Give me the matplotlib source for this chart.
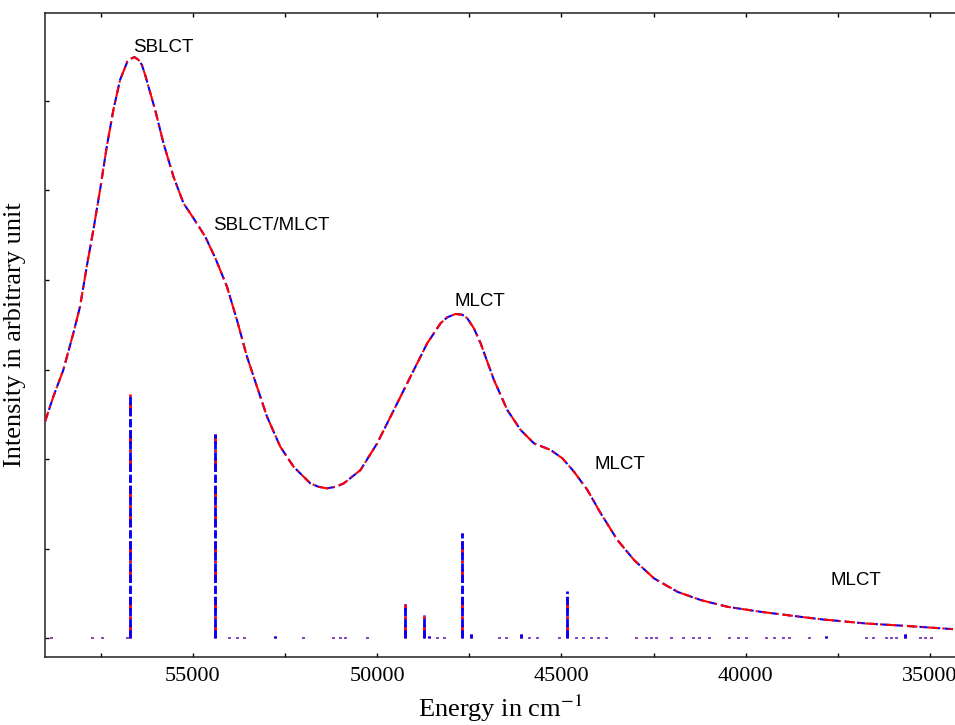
import matplotlib
matplotlib.use('Agg')
import matplotlib.pyplot as plt
from matplotlib.ticker import MultipleLocator, NullFormatter

plt.rcParams['font.family'] = ['Liberation Serif', 'DejaVu Serif']
plt.rcParams['mathtext.fontset'] = 'stix'

# convoluted spectrum (energy in cm-1, intensity in arb. units)
curve_energy = [59013, 58787, 58516, 58244, 58062, 57880, 57700, 57518, 57336, 57157,
                56975, 56885, 56777, 56703, 56586, 56478, 56385, 56296, 56206, 56024,
                55798, 55527, 55255, 54983, 54665, 54393, 54075, 53804, 53532, 53260,
                52988, 52627, 52266, 51812, 51586, 51358, 51133, 50907, 50453, 50000,
                49548, 49095, 48641, 48279, 48097, 47872, 47690, 47554, 47375, 47192,
                46831, 46467, 46105, 45744, 45290, 44972, 44657, 44293, 43932, 43478,
                43027, 42484, 41847, 41214, 40488, 39584, 38496, 37907, 36730, 35643,
                34374]
curve_int = [2.417, 2.696, 2.994, 3.404, 3.702, 4.149, 4.559, 5.006, 5.489, 5.899,
             6.235, 6.327, 6.439, 6.466, 6.488, 6.458, 6.402, 6.291, 6.160, 5.899,
             5.527, 5.154, 4.857, 4.689, 4.484, 4.246, 3.925, 3.553, 3.143, 2.808,
             2.473, 2.137, 1.914, 1.728, 1.690, 1.673, 1.690, 1.728, 1.877, 2.175,
             2.547, 2.920, 3.293, 3.516, 3.583, 3.620, 3.612, 3.572, 3.460, 3.293,
             2.883, 2.547, 2.324, 2.175, 2.101, 2.008, 1.858, 1.654, 1.393, 1.095,
             0.872, 0.667, 0.517, 0.425, 0.350, 0.294, 0.238, 0.209, 0.164, 0.137,
             0.101]

# stick spectrum: main transitions
stick_energy = [56703, 54413, 49239, 48733, 47709, 44855, 52763, 48597, 47464, 46105, 37818, 35689]
stick_int = [2.73, 2.28, 0.38, 0.26, 1.18, 0.53, 0.03, 0.03, 0.05, 0.05, 0.03, 0.05]

# weak transitions (barely above baseline)
weak_energy = [58850, 57744, 57472, 56793, 54032, 53804, 53625, 52002, 51187, 50997,
               50861, 50271, 48369, 48190, 46695, 46513, 45880, 45651, 45064, 44611,
               44421, 44203, 44013, 43796, 42981, 42709, 42573, 42437, 42030, 41712,
               41432, 41269, 40989, 40445, 40209, 39992, 39449, 39223, 38987, 38824,
               38271, 36731, 36549, 36187, 36051, 35915, 35282, 35128, 34965]
weak_int = [0.015] * len(weak_energy)

labels = ['SBLCT', 'SBLCT/MLCT', 'MLCT', 'MLCT', 'MLCT']
label_x = [56630, 54456, 47899, 44114, 37709]
label_y = [6.547, 4.559, 3.713, 1.885, 0.592]

fig = plt.figure(figsize=(9.55, 7.25), dpi=100)
ax = fig.add_axes([0.0471, 0.0938, 0.9529, 0.8882])

lw = 1.5
# sticks
all_e = stick_energy + weak_energy
all_i = stick_int + weak_int
for e, h in zip(all_e, all_i):
    ax.plot([e, e], [0, h], color='red', lw=2.0, linestyle=(0, (5, 2, 1, 2)), zorder=2)
    ax.plot([e, e], [0, h], color='blue', lw=2.0, linestyle=(0, (3, 1)), zorder=3)

# curves
ax.plot(curve_energy, curve_int, color='blue', lw=lw, linestyle=(0, (4, 2)), zorder=4)
ax.plot(curve_energy, curve_int, color='red', lw=lw, linestyle=(0, (5, 2, 1, 2)), zorder=5)

for t, x, y in zip(labels, label_x, label_y):
    ax.text(x, y, t, fontsize=13.5, family=['Liberation Sans', 'DejaVu Sans'],
            ha='left', va='baseline')

ax.set_xlim(59013, 34320)
ax.set_ylim(-0.21, 6.98)
ax.xaxis.set_major_locator(MultipleLocator(5000))
ax.xaxis.set_minor_locator(MultipleLocator(2500))
ax.set_yticks(range(0, 7))
ax.yaxis.set_major_formatter(NullFormatter())

ax.tick_params(which='both', direction='in', top=True, right=False, length=3, width=1,
               labelsize=16, pad=7.5)
ax.spines['right'].set_visible(False)
for s in ['left', 'bottom', 'top']:
    ax.spines[s].set_linewidth(1.1)
    ax.spines[s].set_color('#222222')

ax.set_xlabel('Energy in cm$^{-1}$', fontsize=19, labelpad=4.5)
ax.set_ylabel('Intensity in arbitrary unit', fontsize=19, labelpad=6)

plt.savefig('out.png', dpi=100)
